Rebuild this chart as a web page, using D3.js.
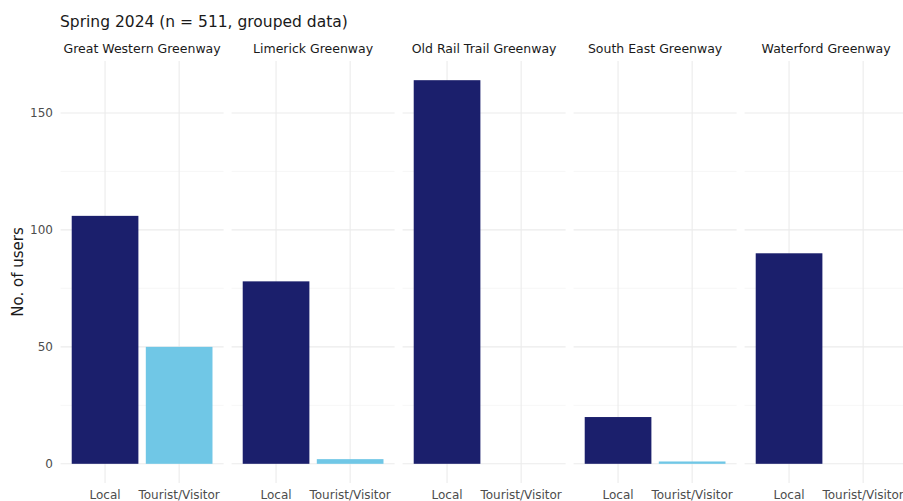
<!DOCTYPE html>
<html><head><meta charset="utf-8">
<script src="https://cdn.jsdelivr.net/npm/d3@7"></script>
<style>body{margin:0;background:#fff}svg{font-family:"DejaVu Sans",sans-serif}</style>
</head><body><svg id="c" width="903" height="501"></svg>
<script>
const greenways = ["Great Western Greenway","Limerick Greenway","Old Rail Trail Greenway","South East Greenway","Waterford Greenway"];
const userTypes = ["Local","Tourist/Visitor"];
const localUsers = [106, 78, 164, 20, 90];
const touristUsers = [50, 2, 0, 1, 0];
const yTicks = [0, 50, 100, 150];
const yMinor = [25, 75, 125];
const title = "Spring 2024 (n = 511, grouped data)";
const yTitle = "No. of users";
const colors = {"Local":"#1b1f6c","Tourist/Visitor":"#70c7e6"};

const svg = d3.select("#c");
const panelStart = 60.6, panelStep = 171, panelW = 163;
const yMax = d3.max(localUsers.concat(touristUsers));
const y = d3.scaleLinear().domain([-yMax*0.05, yMax*1.05]).range([483, 61]);

svg.append("text").attr("x", 60).attr("y", 27).attr("font-size", 15.5).attr("fill", "#1a1a1a").text(title);
svg.append("text").attr("transform", "translate(23,272) rotate(-90)").attr("text-anchor", "middle")
  .attr("font-size", 15).attr("fill", "#1a1a1a").text(yTitle);

// y tick labels
svg.append("g").selectAll("text").data(yTicks).join("text")
  .attr("x", 53).attr("y", d => y(d)).attr("dy", "0.35em").attr("text-anchor", "end")
  .attr("font-size", 12).attr("fill", "#4d4d4d").text(d => d);

greenways.forEach((g, i) => {
  const x0 = panelStart + i * panelStep;
  const x = d3.scalePoint().domain(userTypes).range([x0, x0 + panelW]).padding(0.6);
  const bw = x.step() * 0.9;
  const p = svg.append("g");
  // minor grid
  p.selectAll("line.mn").data(yMinor).join("line")
    .attr("x1", x0).attr("x2", x0 + panelW).attr("y1", d => y(d)).attr("y2", d => y(d))
    .attr("stroke", "#f3f3f3").attr("stroke-width", 0.7);
  // major grid
  p.selectAll("line.mj").data(yTicks).join("line")
    .attr("x1", x0).attr("x2", x0 + panelW).attr("y1", d => y(d)).attr("y2", d => y(d))
    .attr("stroke", "#ebebeb").attr("stroke-width", 1.1);
  p.selectAll("line.vx").data(userTypes).join("line")
    .attr("x1", d => x(d)).attr("x2", d => x(d))
    .attr("y1", y.range()[1]).attr("y2", y.range()[0])
    .attr("stroke", "#ebebeb").attr("stroke-width", 1.1);
  const vals = [localUsers[i], touristUsers[i]];
  p.selectAll("rect").data(userTypes.map((t, k) => ({t, v: vals[k]}))).join("rect")
    .attr("x", d => x(d.t) - bw/2).attr("width", bw)
    .attr("y", d => y(d.v)).attr("height", d => y(0) - y(d.v))
    .attr("fill", d => colors[d.t]);
  // strip label
  svg.append("text").attr("x", x0 + panelW/2).attr("y", 53).attr("text-anchor", "middle")
    .attr("font-size", 12.5).attr("fill", "#1a1a1a").text(g);
  // x tick labels
  p.selectAll("text.xl").data(userTypes).join("text")
    .attr("x", d => x(d)).attr("y", 499).attr("text-anchor", "middle")
    .attr("font-size", 12).attr("fill", "#4d4d4d").text(d => d);
});
</script></body></html>
